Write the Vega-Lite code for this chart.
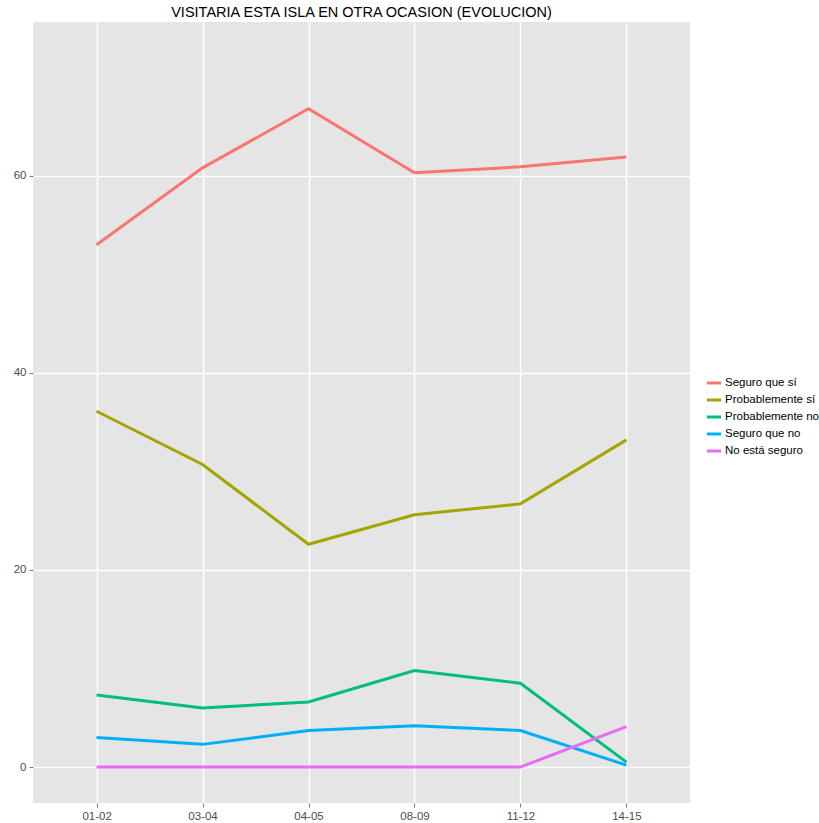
{
  "$schema": "https://vega.github.io/schema/vega-lite/v6.json",
  "width": 657,
  "height": 781,
  "autosize": {"type": "none"},
  "padding": {"left": 33, "top": 22, "right": 129, "bottom": 20},
  "background": "white",
  "title": {"text": "VISITARIA ESTA ISLA EN OTRA OCASION (EVOLUCION)", "font": "Liberation Sans", "fontSize": 14.5, "fontWeight": "normal", "color": "#000000", "anchor": "middle", "offset": 2},
  "config": {
    "view": {"fill": "#E5E5E5", "stroke": null},
    "font": "Liberation Sans"
  },
  "data": {
    "values": [
      {"periodo": "01-02", "respuesta": "Seguro que sí", "valor": 53.0},
      {"periodo": "03-04", "respuesta": "Seguro que sí", "valor": 60.8},
      {"periodo": "04-05", "respuesta": "Seguro que sí", "valor": 66.8},
      {"periodo": "08-09", "respuesta": "Seguro que sí", "valor": 60.3},
      {"periodo": "11-12", "respuesta": "Seguro que sí", "valor": 60.9},
      {"periodo": "14-15", "respuesta": "Seguro que sí", "valor": 61.9},
      {"periodo": "01-02", "respuesta": "Probablemente sí", "valor": 36.1},
      {"periodo": "03-04", "respuesta": "Probablemente sí", "valor": 30.7},
      {"periodo": "04-05", "respuesta": "Probablemente sí", "valor": 22.6},
      {"periodo": "08-09", "respuesta": "Probablemente sí", "valor": 25.6},
      {"periodo": "11-12", "respuesta": "Probablemente sí", "valor": 26.7},
      {"periodo": "14-15", "respuesta": "Probablemente sí", "valor": 33.2},
      {"periodo": "01-02", "respuesta": "Probablemente no", "valor": 7.3},
      {"periodo": "03-04", "respuesta": "Probablemente no", "valor": 6.0},
      {"periodo": "04-05", "respuesta": "Probablemente no", "valor": 6.6},
      {"periodo": "08-09", "respuesta": "Probablemente no", "valor": 9.8},
      {"periodo": "11-12", "respuesta": "Probablemente no", "valor": 8.5},
      {"periodo": "14-15", "respuesta": "Probablemente no", "valor": 0.5},
      {"periodo": "01-02", "respuesta": "Seguro que no", "valor": 3.0},
      {"periodo": "03-04", "respuesta": "Seguro que no", "valor": 2.3},
      {"periodo": "04-05", "respuesta": "Seguro que no", "valor": 3.7},
      {"periodo": "08-09", "respuesta": "Seguro que no", "valor": 4.2},
      {"periodo": "11-12", "respuesta": "Seguro que no", "valor": 3.7},
      {"periodo": "14-15", "respuesta": "Seguro que no", "valor": 0.2},
      {"periodo": "01-02", "respuesta": "No está seguro", "valor": 0},
      {"periodo": "03-04", "respuesta": "No está seguro", "valor": 0},
      {"periodo": "04-05", "respuesta": "No está seguro", "valor": 0},
      {"periodo": "08-09", "respuesta": "No está seguro", "valor": 0},
      {"periodo": "11-12", "respuesta": "No está seguro", "valor": 0},
      {"periodo": "14-15", "respuesta": "No está seguro", "valor": 4.1}
    ]
  },
  "mark": {"type": "line", "strokeWidth": 3},
  "encoding": {
    "x": {
      "field": "periodo", "type": "ordinal",
      "scale": {"type": "point", "padding": 0.6},
      "axis": {"title": null, "labelAngle": 0, "labelFontSize": 11.5, "labelColor": "#4D4D4D", "domain": false, "tickColor": "#7F7F7F", "tickSize": 4, "labelPadding": 3, "grid": true, "gridColor": "#FFFFFF", "gridWidth": 1.5}
    },
    "y": {
      "field": "valor", "type": "quantitative",
      "scale": {"domain": [-3.65, 75.6], "nice": false, "zero": false},
      "axis": {"title": null, "values": [0, 20, 40, 60], "labelFontSize": 11.5, "labelColor": "#4D4D4D", "domain": false, "tickColor": "#7F7F7F", "tickSize": 4, "labelPadding": 3, "grid": true, "gridColor": "#FFFFFF", "gridWidth": 1.5}
    },
    "color": {
      "field": "respuesta", "type": "nominal",
      "sort": ["Seguro que sí", "Probablemente sí", "Probablemente no", "Seguro que no", "No está seguro"],
      "scale": {"domain": ["Seguro que sí", "Probablemente sí", "Probablemente no", "Seguro que no", "No está seguro"], "range": ["#F8766D", "#A3A500", "#00BF7D", "#00B0F6", "#E76BF3"]},
      "legend": {"title": null, "orient": "none", "legendX": 672, "legendY": 352, "symbolType": "stroke", "symbolStrokeWidth": 3, "symbolSize": 200, "labelFontSize": 11.5, "labelColor": "#000000", "rowPadding": 2, "labelOffset": 2, "labelLimit": 200}
    }
  }
}
